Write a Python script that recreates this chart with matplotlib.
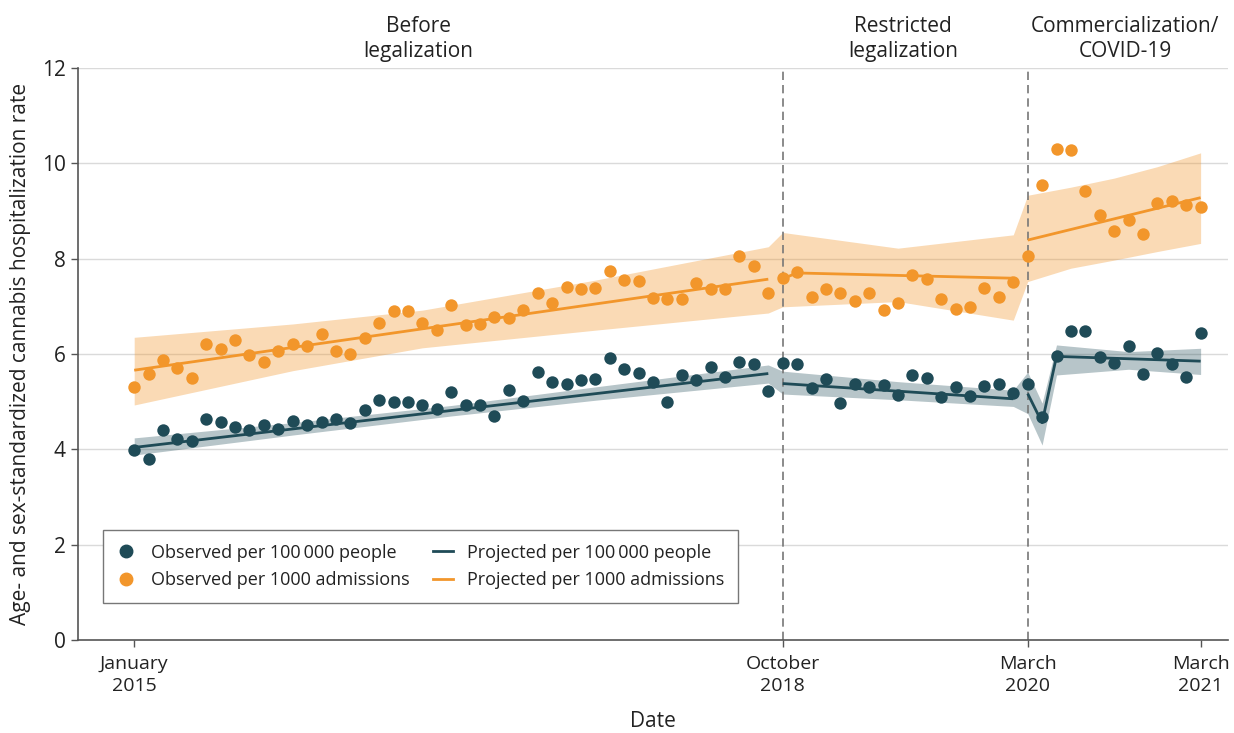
import numpy as np
import matplotlib
matplotlib.use("Agg")
import matplotlib.pyplot as plt
from matplotlib.lines import Line2D

plt.rcParams["font.family"] = ["Open Sans", "DejaVu Sans"]

# Monthly index: 0 = January 2015 ... 74 = March 2021
months = np.arange(75)

observed_people = [
    3.99, 3.80, 4.41, 4.22, 4.17, 4.64, 4.57, 4.46, 4.41, 4.52,
    4.42, 4.60, 4.51, 4.58, 4.63, 4.56, 4.82, 5.03, 4.99, 4.99,
    4.94, 4.85, 5.20, 4.93, 4.94, 4.69, 5.24, 5.01, 5.62, 5.41,
    5.38, 5.46, 5.48, 5.91, 5.68, 5.61, 5.41, 4.99, 5.55, 5.45,
    5.73, 5.52, 5.83, 5.79, 5.22, 5.82, 5.78, 5.29, 5.47, 4.97,
    5.38, 5.31, 5.36, 5.13, 5.56, 5.49, 5.09, 5.31, 5.12, 5.33,
    5.37, 5.18, 5.37, 4.68, 5.96, 6.49, 6.48, 5.94, 5.82, 6.16,
    5.59, 6.03, 5.80, 5.51, 6.45,
]

observed_admissions = [
    5.30, 5.57, 5.88, 5.70, 5.50, 6.20, 6.11, 6.30, 5.98, 5.84,
    6.06, 6.20, 6.17, 6.42, 6.07, 6.00, 6.34, 6.66, 6.91, 6.90,
    6.64, 6.50, 7.03, 6.60, 6.62, 6.77, 6.75, 6.93, 7.27, 7.08,
    7.40, 7.37, 7.39, 7.74, 7.55, 7.53, 7.17, 7.15, 7.16, 7.48,
    7.37, 7.36, 8.05, 7.85, 7.27, 7.59, 7.72, 7.20, 7.37, 7.27,
    7.12, 7.27, 6.92, 7.08, 7.66, 7.57, 7.16, 6.94, 6.99, 7.39,
    7.19, 7.51, 8.06, 9.55, 10.30, 10.28, 9.41, 8.92, 8.59, 8.81,
    8.52, 9.17, 9.21, 9.12, 9.09,
]

# Segmented-regression fits, one list per period
proj_people_months = [[0, 44], [45, 61], [62, 63, 64, 74]]
proj_people = [[4.04, 5.59], [5.38, 5.06], [5.17, 4.56, 5.95, 5.85]]
proj_adm_months = [[0, 44], [45, 46, 61], [62, 74]]
proj_adm = [[5.66, 7.57], [7.58, 7.70, 7.59], [8.39, 9.28]]

# Confidence bands
ci_people_months = [0, 11, 22, 32, 44, 45, 53, 61, 62, 63, 64, 69, 74]
ci_people_low = [3.88, 4.30, 4.70, 5.03, 5.39, 5.16, 5.04, 4.90, 4.75, 4.09, 5.56, 5.68, 5.57]
ci_people_high = [4.24, 4.56, 4.92, 5.31, 5.77, 5.64, 5.42, 5.24, 5.62, 4.97, 6.19, 6.05, 6.12]

ci_adm_months = [0, 11, 20, 32, 44, 45, 53, 61, 62, 65, 68, 71, 74]
ci_adm_low = [4.93, 5.65, 6.13, 6.50, 6.86, 6.99, 7.10, 6.71, 7.52, 7.80, 7.97, 8.15, 8.32]
ci_adm_high = [6.35, 6.63, 6.92, 7.55, 8.25, 8.55, 8.22, 8.50, 9.33, 9.50, 9.69, 9.93, 10.22]

policy_changes = [45, 62]
tick_months = [0, 45, 62, 74]
tick_labels = ["January\n2015", "October\n2018", "March\n2020", "March\n2021"]
periods = ["Before\nlegalization", "Restricted\nlegalization", "Commercialization/\nCOVID-19"]
period_x = [418, 903, 1125]

TEAL = "#1f4b57"
ORANGE = "#f2962b"
TEXT = "#222222"
AXIS = "#555555"

fig = plt.figure(figsize=(12.34, 7.33), dpi=100)
ax = fig.add_axes([78 / 1234, 1 - 640 / 733, (1228 - 78) / 1234, (640 - 68) / 733])

ax.set_xlim(-3.9, 75.9)
ax.set_ylim(0, 12)

for y in range(2, 13, 2):
    ax.axhline(y, color="#dadada", lw=1.0, zorder=0)

ax.fill_between(ci_adm_months, ci_adm_low, ci_adm_high, color=ORANGE, alpha=0.35,
                lw=0, zorder=1)
ax.fill_between(ci_people_months, ci_people_low, ci_people_high, color=TEAL, alpha=0.32,
                lw=0, zorder=1)

for m in policy_changes:
    ax.axvline(m, color="#777777", lw=1.2, ls=(0, (5, 3)), zorder=2)

for xs, ys in zip(proj_adm_months, proj_adm):
    ax.plot(xs, ys, color=ORANGE, lw=2.0, zorder=3, solid_capstyle="butt")
for xs, ys in zip(proj_people_months, proj_people):
    ax.plot(xs, ys, color=TEAL, lw=2.0, zorder=3, solid_capstyle="butt")

ax.scatter(months, observed_admissions, s=80, color=ORANGE, lw=0, zorder=4)
ax.scatter(months, observed_people, s=80, color=TEAL, lw=0, zorder=4)

for side in ["top", "right"]:
    ax.spines[side].set_visible(False)
for side in ["left", "bottom"]:
    ax.spines[side].set_color(AXIS)
    ax.spines[side].set_linewidth(1.2)

ax.set_yticks(range(0, 13, 2))
ax.set_xticks(tick_months)
ax.set_xticklabels(tick_labels, linespacing=1.3)
ax.tick_params(axis="both", colors=AXIS, labelcolor=TEXT, length=5, width=1)
ax.tick_params(axis="y", labelsize=15, pad=4)
ax.tick_params(axis="x", labelsize=14, pad=6)

ax.set_xlabel("Date", fontsize=15, color=TEXT, labelpad=11)
ax.set_ylabel("Age- and sex-standardized cannabis hospitalization rate", fontsize=15,
              color=TEXT, labelpad=8)

for label, px in zip(periods, period_x):
    fig.text(px / 1234, 1 - 39 / 733, label, ha="center", va="center", fontsize=15,
             color=TEXT, linespacing=1.2)

handles = [
    Line2D([], [], marker="o", ls="none", color=TEAL, markersize=9),
    Line2D([], [], marker="o", ls="none", color=ORANGE, markersize=9),
    Line2D([], [], color=TEAL, lw=2.0),
    Line2D([], [], color=ORANGE, lw=2.0),
]
labels = [
    "Observed per 100\u2009000 people",
    "Observed per 1000 admissions",
    "Projected per 100\u2009000 people",
    "Projected per 1000 admissions",
]
leg = ax.legend(handles, labels, ncol=2, loc="lower left",
                bbox_to_anchor=(0.0217, 0.0647), borderaxespad=0, fontsize=13,
                frameon=True, fancybox=False, edgecolor="#777777", framealpha=1,
                handlelength=1.1, handletextpad=0.8, columnspacing=1.3,
                labelspacing=0.55, borderpad=0.75)
leg.get_frame().set_linewidth(1.0)
for t in leg.get_texts():
    t.set_color(TEXT)

fig.savefig("out.png", dpi=100)
